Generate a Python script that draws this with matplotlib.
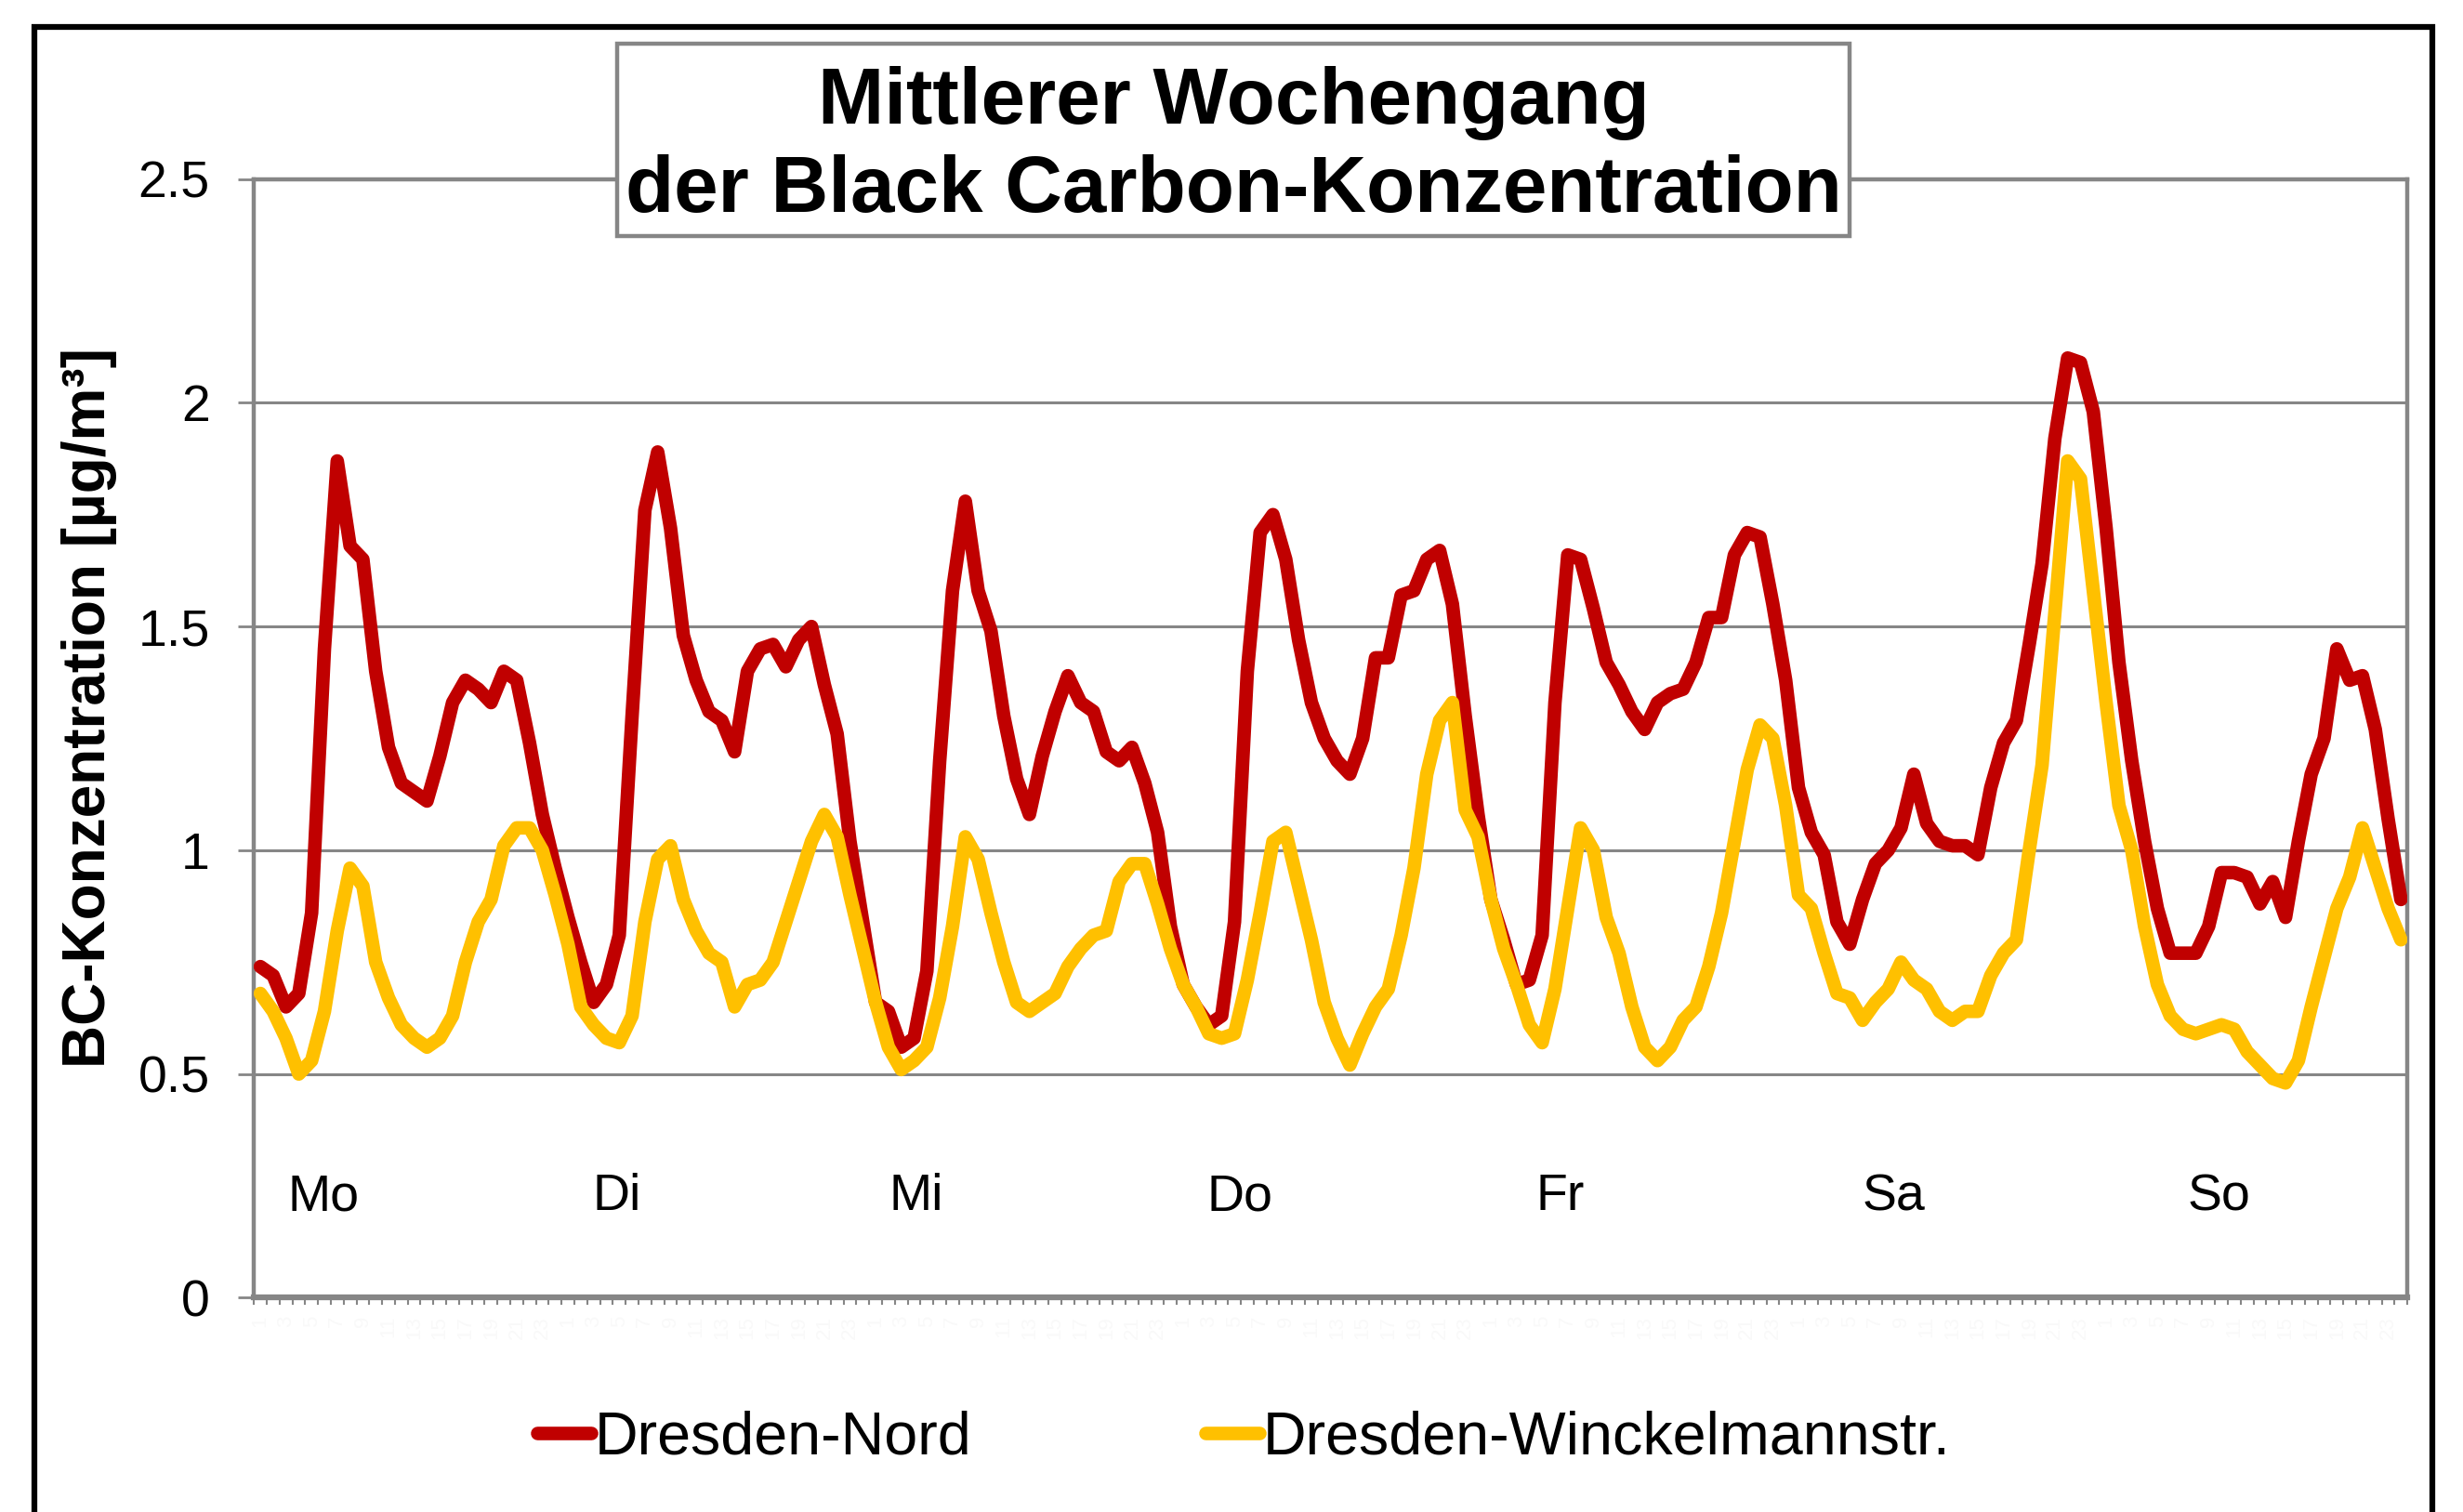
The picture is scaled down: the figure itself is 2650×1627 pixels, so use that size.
import numpy as np
import matplotlib.pyplot as plt
from matplotlib.patches import Rectangle

plt.rcParams['font.family'] = ['Liberation Sans', 'DejaVu Sans']

# Stundenmittel, Montag 1 Uhr bis Sonntag 24 Uhr (168 Werte)
nord = [0.74, 0.72, 0.65, 0.68, 0.86, 1.45, 1.87, 1.68, 1.65, 1.40,
        1.23, 1.15, 1.13, 1.11, 1.21, 1.33, 1.38, 1.36, 1.33, 1.40,
        1.38, 1.24, 1.08, 0.96, 0.85, 0.75, 0.66, 0.70, 0.81, 1.30,
        1.76, 1.89, 1.72, 1.48, 1.38, 1.31, 1.29, 1.22, 1.40, 1.45,
        1.46, 1.41, 1.47, 1.50, 1.37, 1.26, 1.02, 0.84, 0.66, 0.64,
        0.56, 0.58, 0.73, 1.20, 1.58, 1.78, 1.58, 1.49, 1.30, 1.16,
        1.08, 1.21, 1.31, 1.39, 1.33, 1.31, 1.22, 1.20, 1.23, 1.15,
        1.04, 0.83, 0.70, 0.65, 0.61, 0.63, 0.84, 1.40, 1.71, 1.75,
        1.65, 1.47, 1.33, 1.25, 1.20, 1.17, 1.25, 1.43, 1.43, 1.57,
        1.58, 1.65, 1.67, 1.55, 1.30, 1.08, 0.89, 0.80, 0.70, 0.71,
        0.81, 1.33, 1.66, 1.65, 1.54, 1.42, 1.37, 1.31, 1.27, 1.33,
        1.35, 1.36, 1.42, 1.52, 1.52, 1.66, 1.71, 1.70, 1.55, 1.38,
        1.14, 1.04, 0.99, 0.84, 0.79, 0.89, 0.97, 1.00, 1.05, 1.17,
        1.06, 1.02, 1.01, 1.01, 0.99, 1.14, 1.24, 1.29, 1.46, 1.64,
        1.92, 2.10, 2.09, 1.98, 1.72, 1.42, 1.20, 1.02, 0.87, 0.77,
        0.77, 0.77, 0.83, 0.95, 0.95, 0.94, 0.88, 0.93, 0.85, 1.02,
        1.17, 1.25, 1.45, 1.38, 1.39, 1.27, 1.07, 0.89]

winckelmann = [0.68, 0.64, 0.58, 0.50, 0.53, 0.64, 0.82, 0.96, 0.92, 0.75,
               0.67, 0.61, 0.58, 0.56, 0.58, 0.63, 0.75, 0.84, 0.89, 1.01,
               1.05, 1.05, 1.00, 0.90, 0.79, 0.65, 0.61, 0.58, 0.57, 0.63,
               0.84, 0.98, 1.01, 0.89, 0.82, 0.77, 0.75, 0.65, 0.70, 0.71,
               0.75, 0.84, 0.93, 1.02, 1.08, 1.03, 0.90, 0.78, 0.66, 0.56,
               0.51, 0.53, 0.56, 0.67, 0.83, 1.03, 0.98, 0.86, 0.75, 0.66,
               0.64, 0.66, 0.68, 0.74, 0.78, 0.81, 0.82, 0.93, 0.97, 0.97,
               0.88, 0.78, 0.70, 0.65, 0.59, 0.58, 0.59, 0.71, 0.86, 1.02,
               1.04, 0.92, 0.80, 0.66, 0.58, 0.52, 0.59, 0.65, 0.69, 0.81,
               0.96, 1.17, 1.29, 1.33, 1.09, 1.03, 0.89, 0.78, 0.70, 0.61,
               0.57, 0.69, 0.87, 1.05, 1.00, 0.85, 0.77, 0.65, 0.56, 0.53,
               0.56, 0.62, 0.65, 0.74, 0.86, 1.02, 1.18, 1.28, 1.25, 1.10,
               0.90, 0.87, 0.77, 0.68, 0.67, 0.62, 0.66, 0.69, 0.75, 0.71,
               0.69, 0.64, 0.62, 0.64, 0.64, 0.72, 0.77, 0.80, 1.00, 1.19,
               1.53, 1.87, 1.83, 1.58, 1.33, 1.10, 1.00, 0.83, 0.70, 0.63,
               0.60, 0.59, 0.60, 0.61, 0.60, 0.55, 0.52, 0.49, 0.48, 0.53,
               0.65, 0.76, 0.87, 0.94, 1.05, 0.96, 0.87, 0.80]

tage = ['Mo', 'Di', 'Mi', 'Do', 'Fr', 'Sa', 'So']
tag_x = [4.9, 27.8, 51.2, 76.4, 101.4, 127.4, 152.8]   # Lage der Tagesbeschriftung
y_ticks = [0, 0.5, 1, 1.5, 2, 2.5]
y_labels = ['0', '0.5', '1', '1.5', '2', '2.5']

grau = '#868686'
stunden = np.arange(len(nord))

fig = plt.figure(figsize=(26.5, 16.27), dpi=100)
ax = fig.add_axes([0.1031, 0.1417, 0.8743, 0.7399])

ax.plot(stunden, nord, color='#C00000', lw=10.5, solid_capstyle='round',
        solid_joinstyle='round', label='Dresden-Nord', zorder=3)
ax.plot(stunden, winckelmann, color='#FFC000', lw=10.5, solid_capstyle='round',
        solid_joinstyle='round', label='Dresden-Winckelmannstr.', zorder=3)

ax.set_xlim(-0.5, len(nord) - 0.5)
ax.set_ylim(0, 2.5)
ax.set_yticks(y_ticks, y_labels)
ax.yaxis.grid(True, color=grau, lw=2.2)
ax.set_axisbelow(True)

# kleine Striche an den Stundengrenzen, fast unsichtbare Stundenzahlen
ax.set_xticks(np.arange(-0.5, len(nord), 1.0), [])
ax.set_xticks(stunden[::2], [str(h % 24 + 1) for h in stunden[::2]], minor=True)
ax.tick_params(axis='x', which='major', length=6, width=1.5, color=grau)
ax.tick_params(axis='x', which='minor', length=0, labelsize=16, labelcolor='#f9f9f9',
               labelrotation=90, pad=14)
ax.tick_params(axis='y', length=12, width=2, color=grau, labelsize=40, pad=22)

for s in ['left', 'right', 'top']:
    ax.spines[s].set_color(grau)
    ax.spines[s].set_linewidth(3.2)
ax.spines['bottom'].set_color(grau)
ax.spines['bottom'].set_linewidth(4.5)

for t, x in zip(tage, tag_x):
    ax.text(x, 0.225, t, fontsize=40, ha='center', va='center')

fig.text(0.0362, 0.532, 'BC-Konzentration [µg/m³]', rotation=90, fontsize=46,
         fontweight='bold', ha='center', va='center')

# Titel im Kasten
fig.patches.append(Rectangle((0.2506, 0.8439), 0.5004, 0.1272, transform=fig.transFigure,
                             facecolor='white', edgecolor=grau, lw=3.2, zorder=5))
fig.text(0.5008, 0.9315, 'Mittlerer Wochengang', fontsize=61.5, fontweight='bold',
         ha='center', va='center', zorder=6)
fig.text(0.5008, 0.8735, 'der Black Carbon-Konzentration', fontsize=61.5, fontweight='bold',
         ha='center', va='center', zorder=6)

# äußerer Rahmen
fig.patches.append(Rectangle((0.014, -0.02), 0.9735, 1.002, transform=fig.transFigure,
                             facecolor='none', edgecolor='black', lw=4.5, zorder=1))

fig.legend(loc='center', bbox_to_anchor=(0.505, 0.049), ncol=2, frameon=False,
           fontsize=46.5, handlelength=0.9, handletextpad=0.05, columnspacing=3.9)

fig.savefig('out.png', dpi=100, facecolor='white')
